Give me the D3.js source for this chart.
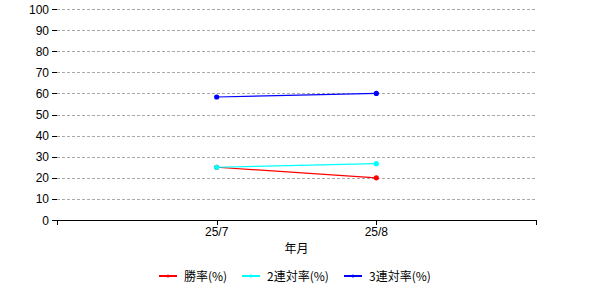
<!DOCTYPE html>
<html lang="ja">
<head>
    <meta charset="UTF-8">
    <title>Rates</title>
    <script src="https://d3js.org/d3.v7.min.js"></script>
    <style>
        body { margin: 0; background: #fff; }
        text { font-family: "Liberation Sans", Arial, "Noto Sans CJK JP", sans-serif; font-size: 12px; fill: #000; }
    </style>
</head>
<body>
<script>
    const width  = 600;
    const height = 300;

    const months = ["25/7", "25/8"];
    const winRate = [25, 20];
    const top2Rate = [25, 26.7];
    const top3Rate = [58.3, 60];
    const yTicks = [0, 10, 20, 30, 40, 50, 60, 70, 80, 90, 100];

    const series = [
        {name: "勝率(%)", values: winRate, color: "#ff0000"},
        {name: "2連対率(%)", values: top2Rate, color: "#00ffff"},
        {name: "3連対率(%)", values: top3Rate, color: "#0000ff"}
    ];

    const plotLeft = 57, plotRight = 536, plotTop = 9, plotBottom = 220;

    // categories sit at 1 and 2 on a 0..3 axis
    const scaleX = d3.scaleLinear().domain([0, months.length + 1]).range([plotLeft, plotRight]);
    const scaleY = d3.scaleLinear().domain([0, 100]).range([plotBottom, plotTop]);

    const svg = d3.select("body").append("svg").attr("width", width).attr("height", height);

    // grid
    svg.append("g").selectAll("line")
        .data(yTicks.filter(d => d > 0)).enter()
        .append("line")
        .attr("x1", plotLeft).attr("x2", plotRight)
        .attr("y1", d => Math.round(scaleY(d)) + 0.5)
        .attr("y2", d => Math.round(scaleY(d)) + 0.5)
        .attr("stroke", "#a9a9a9")
        .attr("stroke-dasharray", "3,2");

    // y axis: ticks and labels only
    const yAxis = svg.append("g");
    yAxis.selectAll("line")
        .data(yTicks).enter()
        .append("line")
        .attr("x1", plotLeft - 5).attr("x2", plotLeft)
        .attr("y1", d => Math.round(scaleY(d)) + 0.5)
        .attr("y2", d => Math.round(scaleY(d)) + 0.5)
        .attr("stroke", "#000");
    yAxis.selectAll("text")
        .data(yTicks).enter()
        .append("text")
        .attr("x", plotLeft - 8)
        .attr("y", d => scaleY(d) + 4.5)
        .attr("text-anchor", "end")
        .text(d => d);

    // x axis
    const xAxis = svg.append("g");
    xAxis.append("line")
        .attr("x1", plotLeft).attr("x2", plotRight + 1)
        .attr("y1", plotBottom + 0.5).attr("y2", plotBottom + 0.5)
        .attr("stroke", "#000");
    xAxis.selectAll("line.tick")
        .data(d3.range(0, months.length + 2)).enter()
        .append("line")
        .attr("class", "tick")
        .attr("x1", d => Math.round(scaleX(d)) + 0.5)
        .attr("x2", d => Math.round(scaleX(d)) + 0.5)
        .attr("y1", plotBottom).attr("y2", plotBottom + 5)
        .attr("stroke", "#000");
    xAxis.selectAll("text")
        .data(months).enter()
        .append("text")
        .attr("x", (d, i) => scaleX(i + 1))
        .attr("y", plotBottom + 16)
        .attr("text-anchor", "middle")
        .text(d => d);
    svg.append("text")
        .attr("x", (plotLeft + plotRight) / 2)
        .attr("y", plotBottom + 33)
        .attr("text-anchor", "middle")
        .style("font-family", "'Noto Sans CJK JP', sans-serif")
        .text("年月");

    // series
    const line = d3.line()
        .x((d, i) => scaleX(i + 1))
        .y(d => scaleY(d));

    series.forEach(s => {
        const g = svg.append("g");
        g.append("path")
            .datum(s.values)
            .attr("d", line)
            .attr("fill", "none")
            .attr("stroke", s.color)
            .attr("stroke-width", 1.2);
        g.selectAll("circle")
            .data(s.values).enter()
            .append("circle")
            .attr("cx", (d, i) => scaleX(i + 1))
            .attr("cy", d => scaleY(d))
            .attr("r", 2.6)
            .attr("fill", s.color);
    });

    // legend
    const legendX = [159, 242, 344];
    const legend = svg.append("g");
    series.forEach((s, i) => {
        const lg = legend.append("g").attr("transform", "translate(" + [legendX[i], 276] + ")");
        lg.append("line")
            .attr("x1", 0).attr("x2", 18)
            .attr("stroke", s.color)
            .attr("stroke-width", 2);
        lg.append("circle").attr("cx", 9).attr("r", 1.5).attr("fill", s.color);
        lg.append("text")
            .attr("x", 25)
            .attr("y", 4.5)
            .style("font-family", "'Noto Sans CJK JP', sans-serif")
            .text(s.name);
    });
</script>
</body>
</html>
